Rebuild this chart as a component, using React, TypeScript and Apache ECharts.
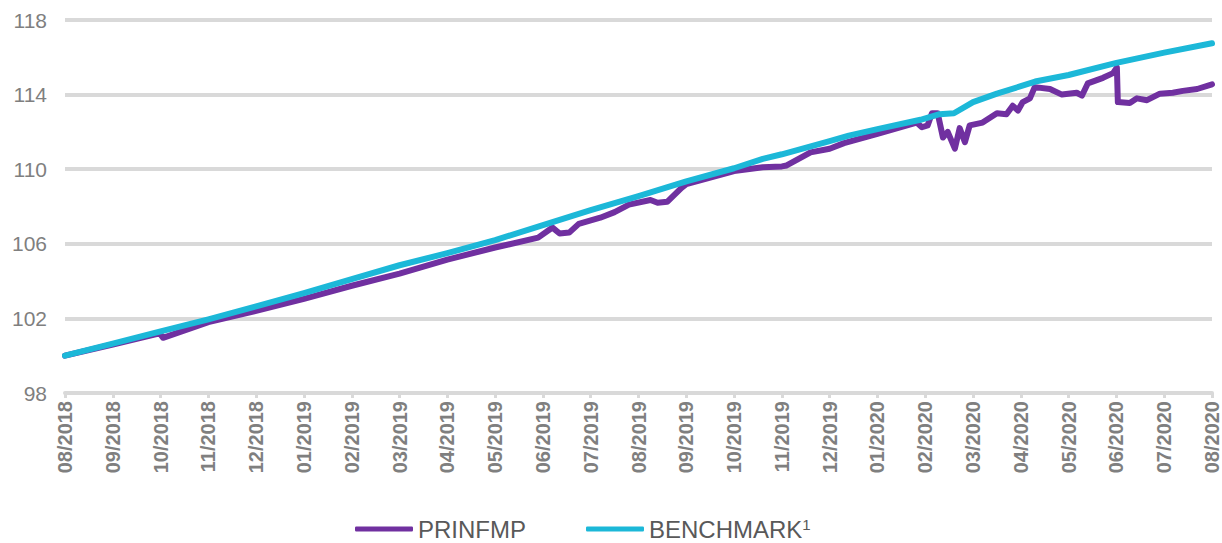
import React, { useEffect, useRef } from "react";
import * as echarts from "echarts";

// Month tick labels (x axis, value = month index from 08/2018)
const tickLabels = [
  "08/2018", "09/2018", "10/2018", "11/2018", "12/2018",
  "01/2019", "02/2019", "03/2019", "04/2019", "05/2019", "06/2019", "07/2019",
  "08/2019", "09/2019", "10/2019", "11/2019", "12/2019",
  "01/2020", "02/2020", "03/2020", "04/2020", "05/2020", "06/2020", "07/2020", "08/2020",
];

// BENCHMARK: month position and index value
const benchX = [0, 1, 2, 3, 4, 5, 6, 7, 8, 9, 10, 11, 12, 13, 14, 14.6, 15, 16, 16.4, 17, 17.9, 18.3, 18.6, 19, 19.5, 20, 20.3, 21, 22, 23, 24];
const benchY = [100.0, 100.65, 101.3, 101.95, 102.65, 103.35, 104.1, 104.85, 105.5, 106.2, 107.0, 107.8, 108.55, 109.35, 110.05, 110.55, 110.8, 111.5, 111.8, 112.15, 112.65, 112.95, 113.0, 113.6, 114.05, 114.45, 114.7, 115.05, 115.7, 116.25, 116.75];

// PRINFMP: month position and index value
const fundX = [0, 1, 1.98, 2.05, 3, 4, 5, 6, 7, 8, 9, 9.9, 10.2, 10.35, 10.55, 10.75, 11.2, 11.5, 11.8, 12.25, 12.4, 12.6, 12.9, 13, 14, 14.6, 15, 15.1, 15.6, 16, 16.3, 17, 17.82, 17.93, 18.05, 18.14, 18.26, 18.37, 18.47, 18.62, 18.72, 18.83, 18.93, 19.2, 19.5, 19.7, 19.83, 19.94, 20.04, 20.19, 20.29, 20.61, 20.86, 21.17, 21.28, 21.4, 21.72, 21.93, 22.01, 22.03, 22.28, 22.43, 22.64, 22.91, 23.18, 23.39, 23.69, 24];
const fundY = [100.0, 100.6, 101.2, 100.96, 101.8, 102.4, 103.05, 103.75, 104.4, 105.15, 105.8, 106.33, 106.87, 106.55, 106.6, 107.07, 107.4, 107.7, 108.1, 108.35, 108.2, 108.25, 109.0, 109.2, 109.9, 110.1, 110.15, 110.2, 110.9, 111.1, 111.4, 111.9, 112.5, 112.25, 112.35, 113.0, 113.0, 111.7, 112.0, 111.1, 112.2, 111.45, 112.35, 112.5, 113.0, 112.95, 113.4, 113.15, 113.6, 113.8, 114.4, 114.3, 114.0, 114.1, 113.95, 114.6, 114.9, 115.15, 115.45, 113.6, 113.55, 113.8, 113.7, 114.05, 114.1, 114.2, 114.3, 114.55];

const seriesNames = ["PRINFMP", "BENCHMARK"];

export default function App() {
  const ref = useRef<HTMLDivElement>(null);
  useEffect(() => {
    if (!ref.current) return;
    const chart = echarts.init(ref.current, null, { renderer: "svg" });
    const font = "'Liberation Sans', Arial, sans-serif";
    chart.setOption({
      animation: false,
      backgroundColor: "#ffffff",
      grid: { left: 65, right: 9, top: 20, bottom: 150, containLabel: false },
      legend: {
        data: seriesNames,
        left: 355,
        top: 517,
        padding: 0,
        icon: "roundRect",
        itemWidth: 58,
        itemHeight: 5,
        itemGap: 60,
        textStyle: {
          fontFamily: font,
          fontSize: 24,
          color: "#595959",
          lineHeight: 24,
          rich: {
            a: { fontFamily: font, fontSize: 24, color: "#595959", lineHeight: 24 },
            s: { fontFamily: font, fontSize: 15, color: "#595959", verticalAlign: "top", lineHeight: 10 },
          },
        },
        formatter: (name: string) => (name === "BENCHMARK" ? "{a|BENCHMARK}{s|1}" : name),
      },
      xAxis: {
        type: "value",
        min: 0,
        max: 24,
        interval: 1,
        axisLine: { show: true, lineStyle: { color: "#D9D9D9", width: 4 } },
        axisTick: { show: true, length: 5, lineStyle: { color: "#D9D9D9", width: 3 } },
        splitLine: { show: false },
        axisLabel: {
          rotate: 90,
          margin: 8,
          fontFamily: font,
          fontSize: 20,
          fontWeight: "bold",
          color: "#7F7F7F",
          showMinLabel: true,
          showMaxLabel: true,
          formatter: (v: number) => tickLabels[Math.round(v)] ?? "",
        },
      },
      yAxis: {
        type: "value",
        min: 98,
        max: 118,
        interval: 4,
        axisLine: { show: false },
        axisTick: { show: false },
        splitLine: { show: true, lineStyle: { color: "#D9D9D9", width: 4 } },
        axisLabel: { margin: 18, fontFamily: font, fontSize: 21, color: "#7F7F7F" },
      },
      series: [
        {
          name: "PRINFMP",
          type: "line",
          data: fundX.map((x, i) => [x, fundY[i]]),
          showSymbol: false,
          symbol: "none",
          lineStyle: { color: "#7030A0", width: 6, cap: "round", join: "round" },
          itemStyle: { color: "#7030A0" },
          z: 2,
        },
        {
          name: "BENCHMARK",
          type: "line",
          data: benchX.map((x, i) => [x, benchY[i]]),
          showSymbol: false,
          symbol: "none",
          lineStyle: { color: "#1CB8D8", width: 6, cap: "round", join: "round" },
          itemStyle: { color: "#1CB8D8" },
          z: 3,
        },
      ],
    });
    return () => chart.dispose();
  }, []);
  return (
    <div
      ref={ref}
      style={{ position: "fixed", left: 0, top: 0, width: 1222, height: 543, background: "#fff" }}
    />
  );
}
